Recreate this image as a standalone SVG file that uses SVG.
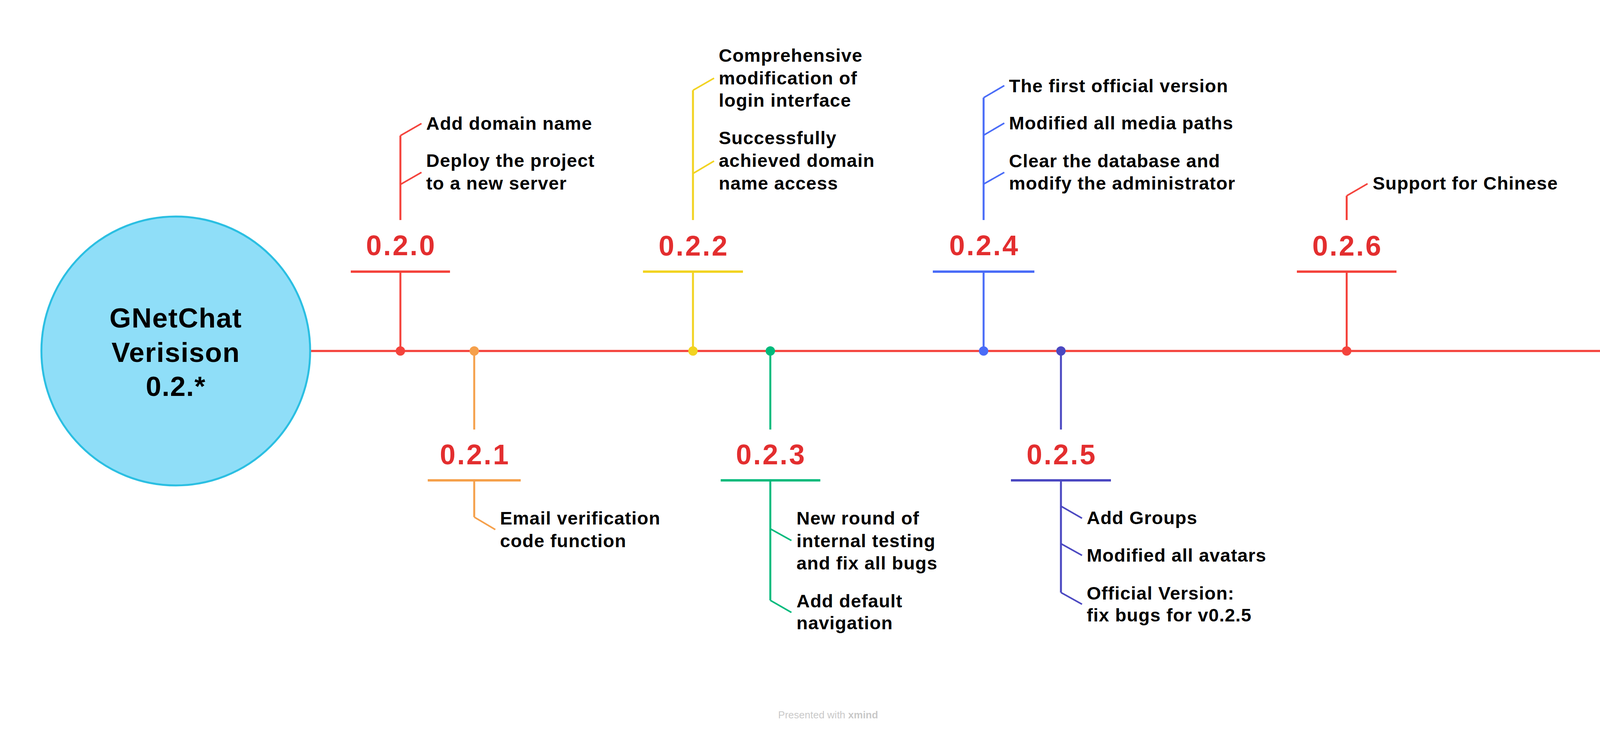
<svg xmlns="http://www.w3.org/2000/svg" width="4236" height="1878" viewBox="0 0 4236 1878">
<style>
.sub{font-family:"Liberation Sans",Arial,sans-serif;font-weight:bold;font-size:47px;letter-spacing:1.2px;fill:#000}
.ver{font-family:"Liberation Sans",Arial,sans-serif;font-weight:bold;font-size:72px;letter-spacing:4px;fill:#E32E2F;text-anchor:middle}
.root{font-family:"Liberation Sans",Arial,sans-serif;font-weight:bold;font-size:71px;letter-spacing:1.5px;fill:#000;text-anchor:middle}
.foot{font-family:"Liberation Sans",Arial,sans-serif;font-size:26px;fill:#C9C9C9;text-anchor:middle}
.bar{stroke-width:6;fill:none}
.stem{stroke-width:5;fill:none}
.br{stroke-width:4;fill:none}
.red{stroke:#F4433C}.org{stroke:#F5A04B}.yel{stroke:#F2D321}.grn{stroke:#00BA7C}.blu{stroke:#4A6CF7}.ind{stroke:#4B48C1}
</style>
<rect width="4236" height="1878" fill="#fff"/>

<g id="connectors">
  <line x1="796" y1="898" x2="4134" y2="898" stroke="#F4433C" stroke-width="5.5"/>
  <!-- 0.2.0 -->
  <path class="stem red" d="M1025 898V695M1025 563V347"/>
  <path class="br red" d="M1025 347L1079 316M1025 472L1079 441"/>
  <!-- 0.2.1 -->
  <path class="stem org" d="M1214 898V1099M1214 1229V1323"/>
  <path class="br org" d="M1214 1323L1268 1355"/>
  <!-- 0.2.2 -->
  <path class="stem yel" d="M1774 898V695M1774 563V231"/>
  <path class="br yel" d="M1774 231L1828 200M1774 444L1828 412"/>
  <!-- 0.2.3 -->
  <path class="stem grn" d="M1972 898V1099M1972 1229V1536"/>
  <path class="br grn" d="M1972 1353L2026 1383M1972 1536L2026 1567"/>
  <!-- 0.2.4 -->
  <path class="stem blu" d="M2518 898V695M2518 563V250"/>
  <path class="br blu" d="M2518 250L2571 219M2518 346L2571 315M2518 471L2571 441"/>
  <!-- 0.2.5 -->
  <path class="stem ind" d="M2716 898V1099M2716 1229V1516"/>
  <path class="br ind" d="M2716 1295L2770 1326M2716 1391L2770 1421M2716 1516L2770 1546"/>
  <!-- 0.2.6 -->
  <path class="stem red" d="M3447.5 898V695M3447.5 563V501"/>
  <path class="br red" d="M3447.5 501L3501 470"/>
  <!-- dots -->
  <circle cx="1025" cy="898" r="12" fill="#F4433C"/>
  <circle cx="1214" cy="898" r="12" fill="#F5A04B"/>
  <circle cx="1774" cy="898" r="12" fill="#F2D321"/>
  <circle cx="1972" cy="898" r="12" fill="#00BA7C"/>
  <circle cx="2518" cy="898" r="12" fill="#4A6CF7"/>
  <circle cx="2716" cy="898" r="12" fill="#4B48C1"/>
  <circle cx="3447.5" cy="898" r="12" fill="#F4433C"/>
</g>

<g id="root">
  <circle cx="450" cy="898" r="344" fill="#8FDEF8" stroke="#2BBFE2" stroke-width="5"/>
  <text class="root" x="450" y="838">GNetChat</text>
  <text class="root" x="450" y="926">Verisison</text>
  <text class="root" x="450" y="1013">0.2.*</text>
</g>

<g id="v020">
  <text class="ver" x="1027" y="653">0.2.0</text>
  <line class="bar red" x1="898" y1="695" x2="1152" y2="695"/>
</g>
<g id="v020-a"><text class="sub" x="1091" y="332">Add domain name</text></g>
<g id="v020-b"><text class="sub" x="1091" y="427">Deploy the project<tspan x="1091" y="485">to a new server</tspan></text></g>

<g id="v021">
  <text class="ver" x="1216" y="1188">0.2.1</text>
  <line class="bar org" x1="1095" y1="1229" x2="1333" y2="1229"/>
</g>
<g id="v021-a"><text class="sub" x="1280" y="1342">Email verification<tspan x="1280" y="1400">code function</tspan></text></g>

<g id="v022">
  <text class="ver" x="1776" y="654">0.2.2</text>
  <line class="bar yel" x1="1646" y1="695" x2="1902" y2="695"/>
</g>
<g id="v022-a"><text class="sub" x="1840" y="158">Comprehensive<tspan x="1840" y="216">modification of</tspan><tspan x="1840" y="273">login interface</tspan></text></g>
<g id="v022-b"><text class="sub" x="1840" y="369">Successfully<tspan x="1840" y="427">achieved domain</tspan><tspan x="1840" y="485">name access</tspan></text></g>

<g id="v023">
  <text class="ver" x="1974" y="1188">0.2.3</text>
  <line class="bar grn" x1="1845" y1="1229" x2="2100" y2="1229"/>
</g>
<g id="v023-a"><text class="sub" x="2039" y="1342">New round of<tspan x="2039" y="1400">internal testing</tspan><tspan x="2039" y="1457">and fix all bugs</tspan></text></g>
<g id="v023-b"><text class="sub" x="2039" y="1554">Add default<tspan x="2039" y="1610">navigation</tspan></text></g>

<g id="v024">
  <text class="ver" x="2520" y="653">0.2.4</text>
  <line class="bar blu" x1="2388" y1="695" x2="2648" y2="695"/>
</g>
<g id="v024-a"><text class="sub" x="2583" y="236">The first official version</text></g>
<g id="v024-b"><text class="sub" x="2583" y="331">Modified all media paths</text></g>
<g id="v024-c"><text class="sub" x="2583" y="428">Clear the database and<tspan x="2583" y="485">modify the administrator</tspan></text></g>

<g id="v025">
  <text class="ver" x="2718" y="1188">0.2.5</text>
  <line class="bar ind" x1="2588" y1="1229" x2="2844" y2="1229"/>
</g>
<g id="v025-a"><text class="sub" x="2782" y="1341">Add Groups</text></g>
<g id="v025-b"><text class="sub" x="2782" y="1437">Modified all avatars</text></g>
<g id="v025-c"><text class="sub" x="2782" y="1534">Official Version:<tspan x="2782" y="1590">fix bugs for v0.2.5</tspan></text></g>

<g id="v026">
  <text class="ver" x="3449.5" y="654">0.2.6</text>
  <line class="bar red" x1="3320" y1="695" x2="3575" y2="695"/>
</g>
<g id="v026-a"><text class="sub" x="3514" y="485">Support for Chinese</text></g>

<g id="footer">
  <text class="foot" x="2120" y="1838">Presented with <tspan font-weight="bold">xmind</tspan></text>
</g>
</svg>
